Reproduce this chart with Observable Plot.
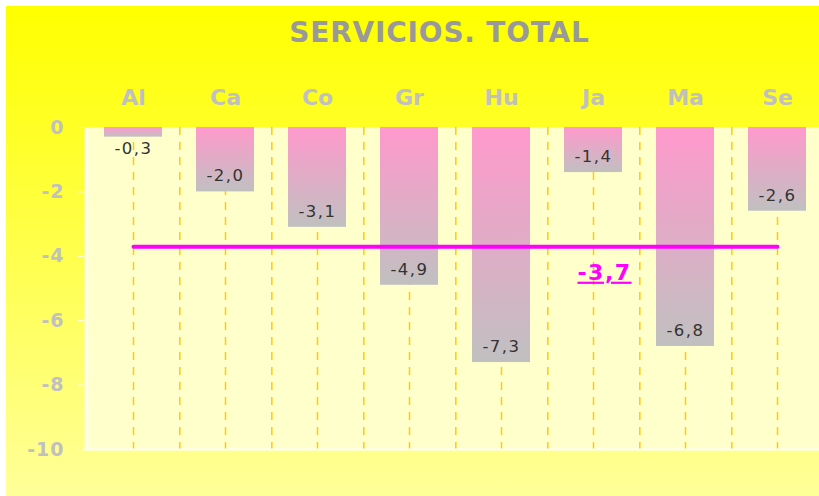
<!DOCTYPE html>
<html><head><meta charset="utf-8">
<script src="https://cdn.jsdelivr.net/npm/d3@7"></script>
<script src="https://cdn.jsdelivr.net/npm/@observablehq/plot@0.6"></script>
<style>
html,body{margin:0;padding:0;background:#fff;overflow:hidden;width:819px;height:496px;}
#chart{position:absolute;left:6px;top:6px;width:813px;height:490px;background:linear-gradient(#FFFF00,#FFFF99);overflow:hidden;}
#title{position:absolute;left:0;width:867px;top:10px;line-height:1;text-align:center;font:bold 28px "DejaVu Sans";letter-spacing:0.8px;color:#999999;z-index:2;}
#chart svg{position:absolute;left:0;top:0;}
.c g[aria-label="y-axis tick"] path{stroke:#FFFFFF;}
.c g[aria-label="y-axis tick label"] text{font:bold 19px "DejaVu Sans";letter-spacing:1px;fill:#C0C0C0;}
.c g[aria-label="x-axis tick label"] text{font:bold 22px "DejaVu Sans";fill:#C0C0C0;}
.c g[aria-label="text"] text{letter-spacing:1.5px;}
</style></head><body><div id="chart"><div id="title">SERVICIOS. TOTAL</div></div>
<script>
const categories = ["Al","Ca","Co","Gr","Hu","Ja","Ma","Se"];
const values = [-0.3,-2.0,-3.1,-4.9,-7.3,-1.4,-6.8,-2.6];
const average = -3.7;
const yTicks = [0,-2,-4,-6,-8,-10];

const data = categories.map((c,i)=>({cat:c, value:values[i]}));
const fmt = v => v.toFixed(1).replace(".", ",");
const W = 813, H = 490, mL = 78, mR = -6;
const step = (W - mL - mR) / categories.length;

const defs = () => {
  const d = d3.create("svg:defs");
  const g = d.append("linearGradient").attr("id","barGrad").attr("x1",0).attr("y1",0).attr("x2",0).attr("y2",1);
  g.append("stop").attr("offset","0%").attr("stop-color","#FF99CC");
  g.append("stop").attr("offset","100%").attr("stop-color","#C0C0C0");
  return d.node();
};
const labelStyle = {x: "cat", y: "value", text: d => fmt(d.value), fontFamily: "DejaVu Sans", fontSize: 16.5, fill: "#333333"};
const grid = {stroke: "#FFCC00", strokeWidth: 1.5, strokeDasharray: "8,7"};

const plot = Plot.plot({
  width: W, height: H,
  marginLeft: mL, marginRight: mR, marginTop: 121, marginBottom: 47,
  className: "c",
  style: {background: "transparent", overflow: "visible"},
  x: {domain: categories, padding: 0, axis: null},
  y: {domain: [-10, 0], axis: null},
  marks: [
    defs,
    Plot.frame({fill: "#FFFFCC"}),
    Plot.ruleX(categories, {x: d=>d, ...grid}),
    Plot.ruleX(categories, {x: d=>d, dx: step/2, ...grid}),
    Plot.ruleX([categories[0]], {x: d=>d, dx: -step/2, stroke: "white", strokeWidth: 2}),
    Plot.ruleY([yTicks[yTicks.length-1]], {y: d=>d, stroke: "white", strokeWidth: 2}),
    Plot.axisY({ticks: yTicks, tickFormat: d => String(d), tickSize: 6, tickPadding: 14, label: null}),
    Plot.axisX({anchor: "top", tickSize: 0, tickPadding: 23, label: null}),
    Plot.barY(data, {x: "cat", y: "value", fill: "url(#barGrad)", insetLeft: 17, insetRight: 17}),
    Plot.text(data.filter(d => Math.abs(d.value) >= 1), {...labelStyle, dy: -16}),
    Plot.text(data.filter(d => Math.abs(d.value) < 1), {...labelStyle, dy: 12}),
    Plot.line(categories, {x: d=>d, y: () => average, stroke: "#FF00FF", strokeWidth: 4}),
    Plot.text([average], {x: () => categories[5], y: d=>d, text: d => fmt(d), dx: 11, dy: 26,
      fontFamily: "DejaVu Sans", fontSize: 22, fontWeight: "bold", fill: "#FF00FF"})
  ]
});
document.getElementById("chart").append(plot);
const tg = plot.querySelectorAll('g[aria-label="text"]');
tg[tg.length-1].querySelectorAll("text").forEach(t => t.style.textDecoration = "underline");
</script></body></html>
